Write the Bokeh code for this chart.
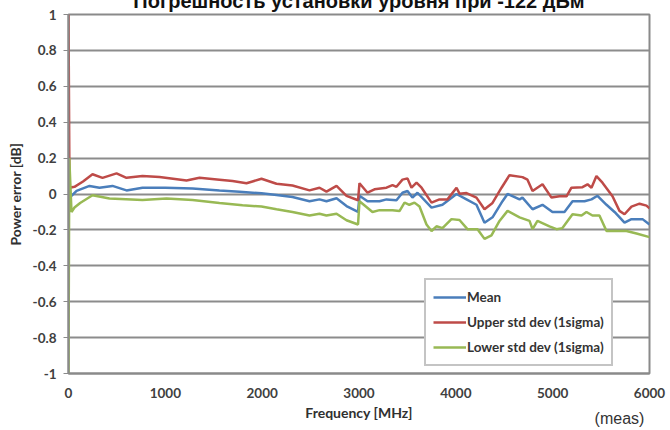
from bokeh.plotting import figure
from bokeh.models import FixedTicker, Legend, LegendItem, LinearAxis
from bokeh.embed import file_html
from bokeh.resources import INLINE

# ---------------- data ----------------
title_text = "Погрешность установки уровня при -122 дБм"
title_x = 3000
x_label = "Frequency [MHz]"
y_label = "Power error [dB]"
note_text = "(meas)"
note_x = 5690

x_ticks = [0, 1000, 2000, 3000, 4000, 5000, 6000]
y_ticks = [-1, -0.8, -0.6, -0.4, -0.2, 0, 0.2, 0.4, 0.6, 0.8, 1]
y_tick_labels = ["-1", "-0.8", "-0.6", "-0.4", "-0.2", "0", "0.2", "0.4", "0.6", "0.8", "1"]

series_names = ["Mean", "Upper std dev (1sigma)", "Lower std dev (1sigma)"]

mean_freq = [0, 31, 83, 217, 320, 454, 599, 764, 1000, 1281, 1559, 1766, 1993, 2148,
             2313, 2489, 2592, 2664, 2768, 2871, 2990, 3005, 3088, 3212, 3284, 3387,
             3449, 3501, 3552, 3604, 3749, 3862, 4007, 4110, 4213, 4296, 4379, 4482,
             4534, 4658, 4688, 4792, 4895, 4998, 5122, 5205, 5329, 5401, 5463, 5556,
             5639, 5742, 5814, 5928, 6000]
mean_val = [0.0, -0.01, 0.017, 0.045, 0.035, 0.045, 0.02, 0.035, 0.035, 0.03, 0.02,
            0.013, 0.004, -0.006, -0.017, -0.04, -0.03, -0.04, -0.024, -0.067, -0.1,
            -0.01, -0.04, -0.04, -0.03, -0.035, 0.007, 0.017, -0.02, 0.007, -0.076,
            -0.06, 0.0, -0.03, -0.06, -0.16, -0.13, -0.04, 0.0, -0.03, -0.02, -0.085,
            -0.06, -0.1, -0.1, -0.04, -0.04, -0.03, -0.01, -0.06, -0.1, -0.16, -0.14,
            -0.14, -0.17]

upper_freq = [0, 10, 62, 150, 248, 351, 496, 599, 764, 940, 1219, 1353, 1559, 1694,
              1838, 1900, 1993, 2148, 2313, 2489, 2592, 2664, 2768, 2871, 2990, 3005,
              3088, 3160, 3284, 3346, 3387, 3449, 3501, 3542, 3594, 3646, 3749, 3831,
              3914, 4007, 4038, 4110, 4213, 4296, 4379, 4472, 4554, 4688, 4740, 4792,
              4895, 4988, 5070, 5143, 5194, 5308, 5360, 5401, 5452, 5514, 5618, 5690,
              5742, 5814, 5897, 5969, 6000]
upper_val = [1.0, 0.035, 0.04, 0.07, 0.11, 0.09, 0.115, 0.09, 0.1, 0.095, 0.075, 0.09,
             0.08, 0.072, 0.06, 0.07, 0.085, 0.057, 0.047, 0.02, 0.035, 0.013, 0.045,
             -0.01, -0.035, 0.06, 0.007, 0.026, 0.035, 0.05, 0.04, 0.08, 0.087, 0.035,
             0.063, 0.035, -0.048, -0.03, -0.03, 0.035, 0.002, 0.005, -0.02, -0.085,
             -0.05, 0.035, 0.105, 0.094, 0.08, 0.017, 0.054, -0.02, -0.013, -0.013,
             0.035, 0.038, 0.054, 0.035, 0.1, 0.063, -0.013, -0.094, -0.113, -0.07,
             -0.054, -0.065, -0.08]

lower_freq = [0, 8, 31, 62, 120, 248, 423, 764, 1012, 1281, 1559, 1797, 1993, 2148,
              2313, 2489, 2592, 2664, 2768, 2871, 2990, 3005, 3139, 3212, 3346, 3418,
              3470, 3520, 3573, 3625, 3697, 3749, 3800, 3862, 3955, 4038, 4120, 4224,
              4296, 4368, 4451, 4534, 4658, 4761, 4792, 4843, 4967, 5040, 5101, 5205,
              5298, 5349, 5411, 5483, 5556, 5659, 5762, 5866, 6000]
lower_val = [-1.0, 0.2, -0.1, -0.075, -0.05, -0.007, -0.025, -0.033, -0.025, -0.033,
             -0.05, -0.063, -0.07, -0.085, -0.1, -0.12, -0.11, -0.12, -0.11, -0.146,
             -0.17, -0.04, -0.1, -0.09, -0.09, -0.095, -0.048, -0.06, -0.048, -0.07,
             -0.17, -0.206, -0.18, -0.19, -0.14, -0.145, -0.196, -0.196, -0.25, -0.23,
             -0.15, -0.094, -0.13, -0.15, -0.196, -0.15, -0.18, -0.196, -0.19, -0.113,
             -0.12, -0.1, -0.12, -0.12, -0.206, -0.206, -0.206, -0.22, -0.24]

colors = ["#4a7ebb", "#be4b48", "#98b954"]

# ---------------- figure ----------------
p = figure(width=669, height=443, x_range=(0, 6000), y_range=(-1, 1),
           output_backend="svg", toolbar_location=None, title=None,
           min_border_left=68, min_border_right=20, min_border_top=28,
           min_border_bottom=56)
p.margin = (-14, 0, 0, 0)
p.background_fill_color = "white"
p.border_fill_color = "white"
p.outline_line_color = "#8a8a8a"
p.outline_line_width = 2

p.xgrid.visible = False
p.ygrid.grid_line_color = "#8c8c8c"
p.ygrid.grid_line_width = 2

p.xaxis.ticker = FixedTicker(ticks=x_ticks)
p.yaxis.ticker = FixedTicker(ticks=y_ticks)
p.yaxis.major_label_overrides = {t: l for t, l in zip(y_ticks, y_tick_labels)}

for ax in (p.xaxis, p.yaxis):
    ax.axis_line_color = "#8a8a8a"
    ax.axis_line_width = 2
    ax.major_tick_line_color = "#8a8a8a"
    ax.major_tick_line_width = 1
    ax.minor_tick_line_color = None
    ax.major_tick_in = 0
    ax.major_label_text_font = "Lato"
    ax.major_label_text_font_style = "bold"
    ax.major_label_text_font_size = "13.5px"
    ax.major_label_text_color = "#404040"
    ax.axis_label_text_font = "Lato"
    ax.axis_label_text_font_style = "bold"
    ax.axis_label_text_font_size = "14px"
    ax.axis_label_text_color = "#303030"

p.yaxis.major_tick_out = 5
p.yaxis.major_label_standoff = 7
p.yaxis.axis_label = y_label
p.yaxis.axis_label_standoff = 6
p.xaxis.major_tick_out = 0
p.xaxis.major_label_standoff = 14
p.xaxis.axis_label = x_label
p.xaxis.axis_label_standoff = 3


def bare_axis(tick, text, font_size, style, standoff, color):
    ax = LinearAxis(ticker=FixedTicker(ticks=[tick]),
                    major_label_overrides={tick: text})
    ax.axis_line_color = None
    ax.major_tick_line_color = None
    ax.minor_tick_line_color = None
    ax.major_tick_in = 0
    ax.major_tick_out = 0
    ax.major_label_standoff = standoff
    ax.major_label_text_font = "Liberation Sans"
    ax.major_label_text_font_size = font_size
    ax.major_label_text_font_style = style
    ax.major_label_text_color = color
    return ax


# title above the frame (its upper half is cut by the page top, as in the reference)
p.add_layout(bare_axis(title_x, title_text, "20px", "bold", 3, "#111111"), "above")
# the "(meas)" note under the x axis
p.add_layout(bare_axis(note_x, note_text, "16px", "normal", -14, "#333333"), "below")

r_mean = p.line(mean_freq, mean_val, line_color=colors[0], line_width=2.5)
r_up = p.line(upper_freq, upper_val, line_color=colors[1], line_width=2.5)
r_low = p.line(lower_freq, lower_val, line_color=colors[2], line_width=2.5)

legend = Legend(items=[LegendItem(label=series_names[0], renderers=[r_mean]),
                       LegendItem(label=series_names[1], renderers=[r_up]),
                       LegendItem(label=series_names[2], renderers=[r_low])],
                location=(356, 7))
legend.border_line_color = "#8a8a8a"
legend.border_line_width = 2
legend.background_fill_color = "white"
legend.background_fill_alpha = 1
legend.padding = 7
legend.spacing = 5
legend.glyph_width = 33
legend.glyph_height = 20
legend.label_standoff = 1
legend.label_text_font = "Lato"
legend.label_text_font_style = "bold"
legend.label_text_font_size = "13.5px"
legend.label_text_color = "#333333"
legend.margin = 0
p.add_layout(legend, "center")

open("out.html", "w").write(file_html(p, INLINE))
